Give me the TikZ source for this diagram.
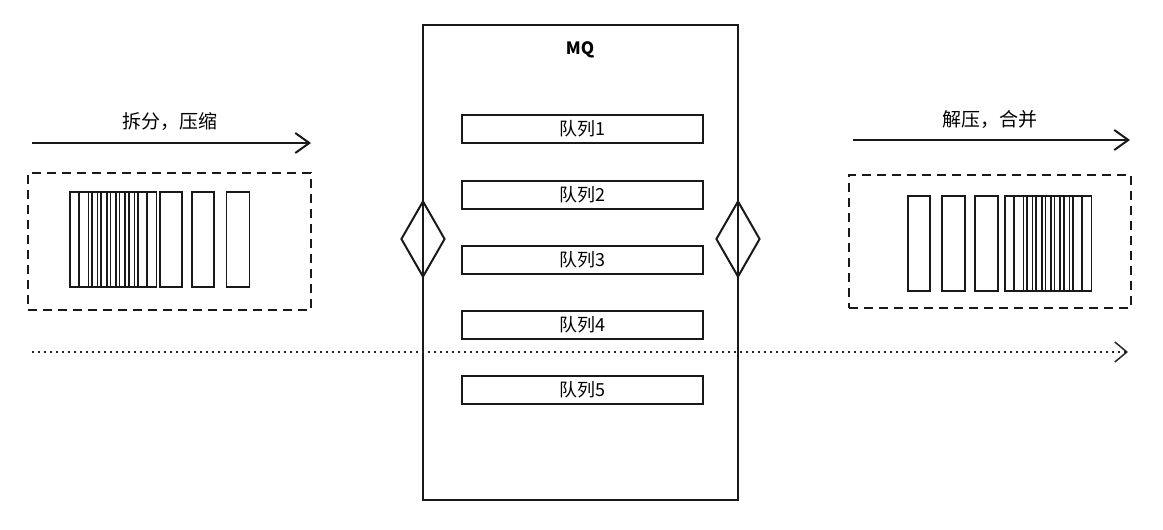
\documentclass[tikz,border=0pt]{standalone}
\usepackage{fontspec}
\setmainfont{Noto Sans CJK SC}
\usetikzlibrary{shapes.geometric,arrows.meta}
\tikzset{
  ln/.style={line width=2pt, draw=black!90},
  qbox/.style={ln, rectangle, minimum width=241pt, minimum height=28pt, inner sep=0pt, font=\fontsize{18}{18}\selectfont},
  bar/.style={line width=1.7pt, draw=black!90, rectangle, minimum height=95pt, inner sep=0pt},
  dia/.style={ln, diamond, minimum width=44pt, minimum height=76pt, inner sep=0pt, aspect=0.58},
  lbl/.style={font=\fontsize{19}{19}\selectfont, inner sep=0pt},
  dbox/.style={ln, dash pattern=on 9pt off 6pt, rectangle, inner sep=0pt},
  barb/.style={-{Straight Barb[length=14pt,width=20pt,line width=2pt]}}
}
\begin{document}
\begin{tikzpicture}[x=1pt,y=-1pt]
\useasboundingbox (0,0) rectangle (1163,530);
% MQ box
\node[ln, rectangle, minimum width=315pt, minimum height=475pt, inner sep=0pt] (mq) at (580.5,262.5) {};
\node[font=\fontsize{17}{17}\selectfont\bfseries, inner sep=0pt] (mqlbl) at (580,50) {MQ};
% queues
\node[qbox] (q1) at (582.5,129) {队列1};
\node[qbox] (q2) at (582.5,195) {队列2};
\node[qbox] (q3) at (582.5,260) {队列3};
\node[qbox] (q4) at (582.5,324.5) {队列4};
\node[qbox] (q5) at (582.5,389.5) {队列5};
% diamonds
\node[dia] (dl) at (423,239) {};
\node[dia] (dr) at (738,239) {};
% left arrow
\coordinate (la1) at (32,143);
\coordinate (la2) at (311,143);
\draw[ln, barb] (la1) -- (la2);
\node[lbl] (lt) at (170,122) {拆分，压缩};
% left dashed box
\node[dbox, minimum width=283pt, minimum height=137pt] (lb) at (169.5,241.5) {};
% left stacked bars
\foreach \i in {0,...,7} {
  \node[bar, minimum width=22pt, draw] (lsb\i) at (81+\i*9.2,239.5) {};
}
\node[bar, minimum width=22pt, draw] (lb1) at (171,239.5) {};
\node[bar, minimum width=22pt, draw] (lb2) at (203,239.5) {};
\node[bar, minimum width=23pt, draw] (lb3) at (238,239.5) {};
% right arrow
\coordinate (ra1) at (853,140);
\coordinate (ra2) at (1130,140);
\draw[ln, barb] (ra1) -- (ra2);
\node[lbl] (rt) at (990,120) {解压，合并};
% right dashed box
\node[dbox, minimum width=282pt, minimum height=133pt] (rb) at (990,241.5) {};
% right bars
\node[bar, minimum width=22pt, draw] (rb1) at (919,243.5) {};
\node[bar, minimum width=23pt, draw] (rb2) at (953.5,243.5) {};
\node[bar, minimum width=23pt, draw] (rb3) at (986.5,243.5) {};
\foreach \i in {0,...,7} {
  \node[bar, minimum width=22pt, draw] (rsb\i) at (1016+\i*9.2,243.5) {};
}
% dotted arrow
\coordinate (da1) at (32,352);
\coordinate (da2) at (1128,352);
\draw[line width=2pt, draw=black!85, dash pattern=on 2pt off 4pt, -{Straight Barb[length=12pt,width=20pt,line width=1.5pt]}] (da1) -- (da2);
\end{tikzpicture}
\end{document}
